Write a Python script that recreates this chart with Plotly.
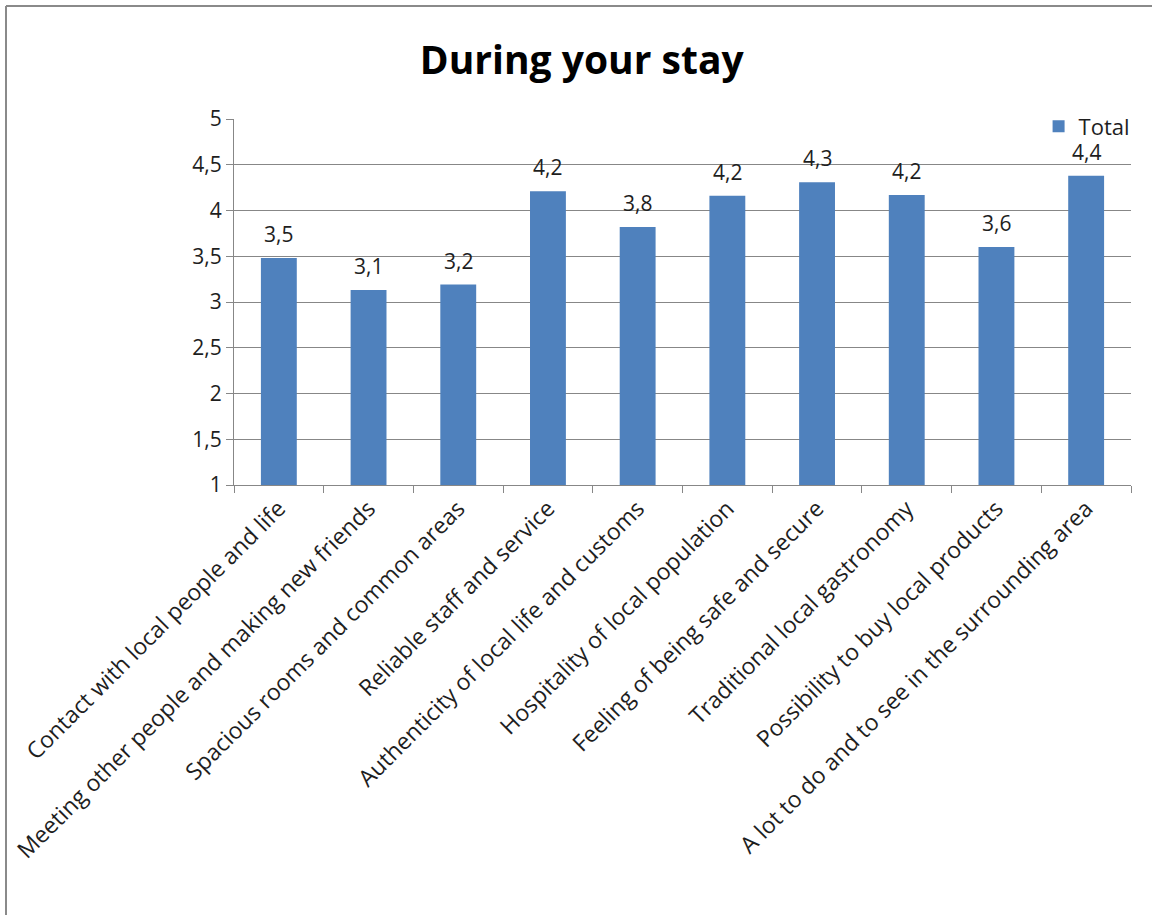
import plotly.graph_objects as go

# Survey items and mean scores (scale 1-5)
categories = [
    "Contact with local people and life",
    "Meeting other people and making new friends",
    "Spacious rooms and common areas",
    "Reliable staff and service",
    "Authenticity of local life and customs",
    "Hospitality of local population",
    "Feeling of being safe and secure",
    "Traditional local gastronomy",
    "Possibility to buy local products",
    "A lot to do and to see in the surrounding area",
]
scores = [3.48, 3.13, 3.19, 4.21, 3.82, 4.16, 4.31, 4.17, 3.60, 4.38]
y_ticks = [1, 1.5, 2, 2.5, 3, 3.5, 4, 4.5, 5]
y_tick_text = ["1", "1,5", "2", "2,5", "3", "3,5", "4", "4,5", "5"]

FONT = "Open Sans"
BAR = "#4F81BD"
GRID = "#878787"
TEXT = "#1e1e1e"

W, H = 1152, 915
ML, MR, MT, MB = 234, 21, 119, 430
PW, PH = W - ML - MR, H - MT - MB


def px_x(px):
    return (px - ML) / PW


def px_y(py):
    return (H - MB - py) / PH


fig = go.Figure()
fig.add_trace(go.Bar(
    x=categories,
    y=scores,
    name="Total",
    marker=dict(color=BAR, line=dict(width=0)),
    showlegend=True,
))

# Value labels above each bar, formatted with a decimal comma
for cat, val in zip(categories, scores):
    fig.add_annotation(
        x=cat, y=val, xref="x", yref="y",
        text=f"{val:.1f}".replace(".", ","),
        showarrow=False, yanchor="middle", yshift=24,
        font=dict(family=FONT, size=21, color=TEXT),
    )

# Frame lines on the left and top edges of the chart
fig.add_shape(type="line", xref="paper", yref="paper",
              x0=px_x(6), x1=px_x(6), y0=px_y(H), y1=px_y(6),
              line=dict(color="#8a8a8a", width=2))
fig.add_shape(type="line", xref="paper", yref="paper",
              x0=px_x(6), x1=px_x(W), y0=px_y(6), y1=px_y(6),
              line=dict(color="#8a8a8a", width=2))

fig.update_layout(
    width=W, height=H,
    margin=dict(l=ML, r=MR, t=MT, b=MB, autoexpand=False),
    paper_bgcolor="white", plot_bgcolor="white",
    bargap=0.6,
    title=dict(text="<b>During your stay</b>", x=0.505, xanchor="center",
               y=1 - 60 / H, yanchor="middle",
               font=dict(family=FONT, size=39, color="#000000")),
    font=dict(family=FONT, size=21, color=TEXT),
    legend=dict(x=1.004, xanchor="right", y=1.037, yanchor="top",
                bgcolor="rgba(0,0,0,0)", borderwidth=0,
                font=dict(family=FONT, size=22, color=TEXT),
                itemwidth=30, tracegroupgap=0),
    xaxis=dict(
        type="category", tickangle=-45, tickson="boundaries",
        ticks="outside", ticklen=7, tickcolor=GRID,
        showline=True, linecolor=GRID, linewidth=1,
        showgrid=False,
        tickfont=dict(family=FONT, size=23, color=TEXT),
    ),
    yaxis=dict(
        range=[1, 5], tickvals=y_ticks, ticktext=y_tick_text,
        ticks="outside", ticklen=7, tickcolor=GRID,
        showline=True, linecolor=GRID, linewidth=1,
        showgrid=True, gridcolor=GRID, gridwidth=1,
        zeroline=False,
        tickfont=dict(family=FONT, size=21, color=TEXT),
    ),
)

fig.write_html("out.html")
